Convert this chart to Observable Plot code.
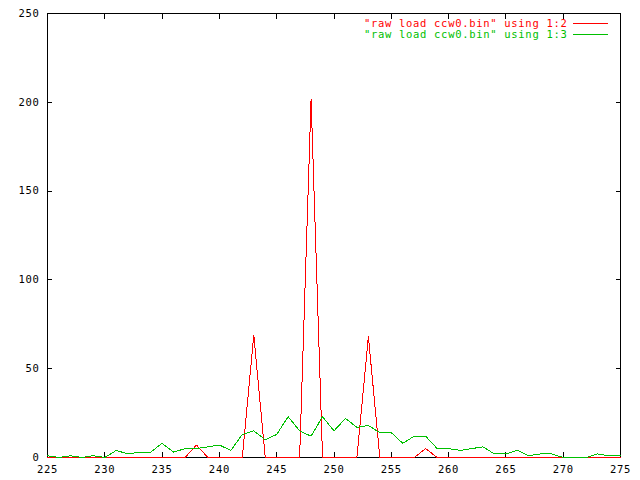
<!DOCTYPE html>
<html><head><meta charset="utf-8">
<script src="https://cdn.jsdelivr.net/npm/d3@7"></script>
<script src="https://cdn.jsdelivr.net/npm/@observablehq/plot@0.6"></script>
<style>body{margin:0;background:#fff}</style>
</head><body><div id="chart"></div>
<script>
const xValues = [225,226,227,228,229,230,231,232,233,234,235,236,237,238,239,240,241,242,243,244,245,246,247,248,249,250,251,252,253,254,255,256,257,258,259,260,261,262,263,264,265,266,267,268,269,270,271,272,273,274,275];
const col2 = [0,0,0,0,0,0,0,0,0,0,0,0,0,7,0,0,0,0,69,0,0,0,0,202,0,0,0,0,68,0,0,0,0,5,0,0,0,0,0,0,0,0,0,0,0,0,0,0,0,0,0];
const col3 = [1,0,1,0,1,0,4,2,3,3,8,3,5,5,6,7,4,13,15,10,13,23,15,12,23,15,22,17,18,14,14,8,12,12,5,5,4,5,6,2,2,4,1,2,2,0,0,0,2,1,1];
const xTicks = [225,230,235,240,245,250,255,260,265,270,275];
const yTicks = [0,50,100,150,200,250];
const seriesLabels = ['"raw load ccw0.bin" using 1:2', '"raw load ccw0.bin" using 1:3'];
const seriesColors = ["#ff0000", "#00c000"];

const rows = xValues.map((x, i) => ({x, a: col2[i], b: col3[i]}));
const legendLine = {draw(ctx, l) { ctx.moveTo(0, 0); ctx.lineTo(0, -l); }};

const chart = Plot.plot({
  width: 640, height: 480,
  marginLeft: 47, marginRight: 20, marginTop: 13, marginBottom: 23,
  style: {fontFamily: "'DejaVu Sans Mono', monospace", fontSize: "10.5px", letterSpacing: "0.7px", background: "#fff", color: "#000", overflow: "visible"},
  x: {domain: [225, 275]},
  y: {domain: [0, 250]},
  marks: [
    Plot.frame({stroke: "#000", shapeRendering: "crispEdges"}),
    Plot.axisX(xTicks, {anchor: "bottom", tickSize: -5, tickPadding: 13, label: null, stroke: "#000", shapeRendering: "crispEdges"}),
    Plot.axisX(xTicks, {anchor: "top", tickSize: -5, tickFormat: () => "", label: null, stroke: "#000", shapeRendering: "crispEdges"}),
    Plot.axisY(yTicks, {anchor: "left", tickSize: -5, tickPadding: 13, label: null, stroke: "#000", shapeRendering: "crispEdges"}),
    Plot.axisY(yTicks, {anchor: "right", tickSize: -5, tickFormat: () => "", label: null, stroke: "#000", shapeRendering: "crispEdges"}),
    Plot.line(rows, {x: "x", y: "a", stroke: seriesColors[0], strokeWidth: 1, shapeRendering: "crispEdges"}),
    Plot.line(rows, {x: "x", y: "b", stroke: seriesColors[1], strokeWidth: 1, shapeRendering: "crispEdges"}),
    Plot.text([seriesLabels[0]], {text: d => d, frameAnchor: "top-right", textAnchor: "end", lineAnchor: "middle", dx: -53, dy: 10, fill: seriesColors[0]}),
    Plot.text([seriesLabels[1]], {text: d => d, frameAnchor: "top-right", textAnchor: "end", lineAnchor: "middle", dx: -53, dy: 21, fill: seriesColors[1]}),
    Plot.vector([seriesLabels[0]], {frameAnchor: "top-right", length: 34, rotate: 90, anchor: "start", shape: legendLine, stroke: seriesColors[0], strokeWidth: 1, dx: -47, dy: 10, shapeRendering: "crispEdges"}),
    Plot.vector([seriesLabels[1]], {frameAnchor: "top-right", length: 34, rotate: 90, anchor: "start", shape: legendLine, stroke: seriesColors[1], strokeWidth: 1, dx: -47, dy: 21, shapeRendering: "crispEdges"})
  ]
});
document.getElementById("chart").appendChild(chart);
</script>
</body></html>
